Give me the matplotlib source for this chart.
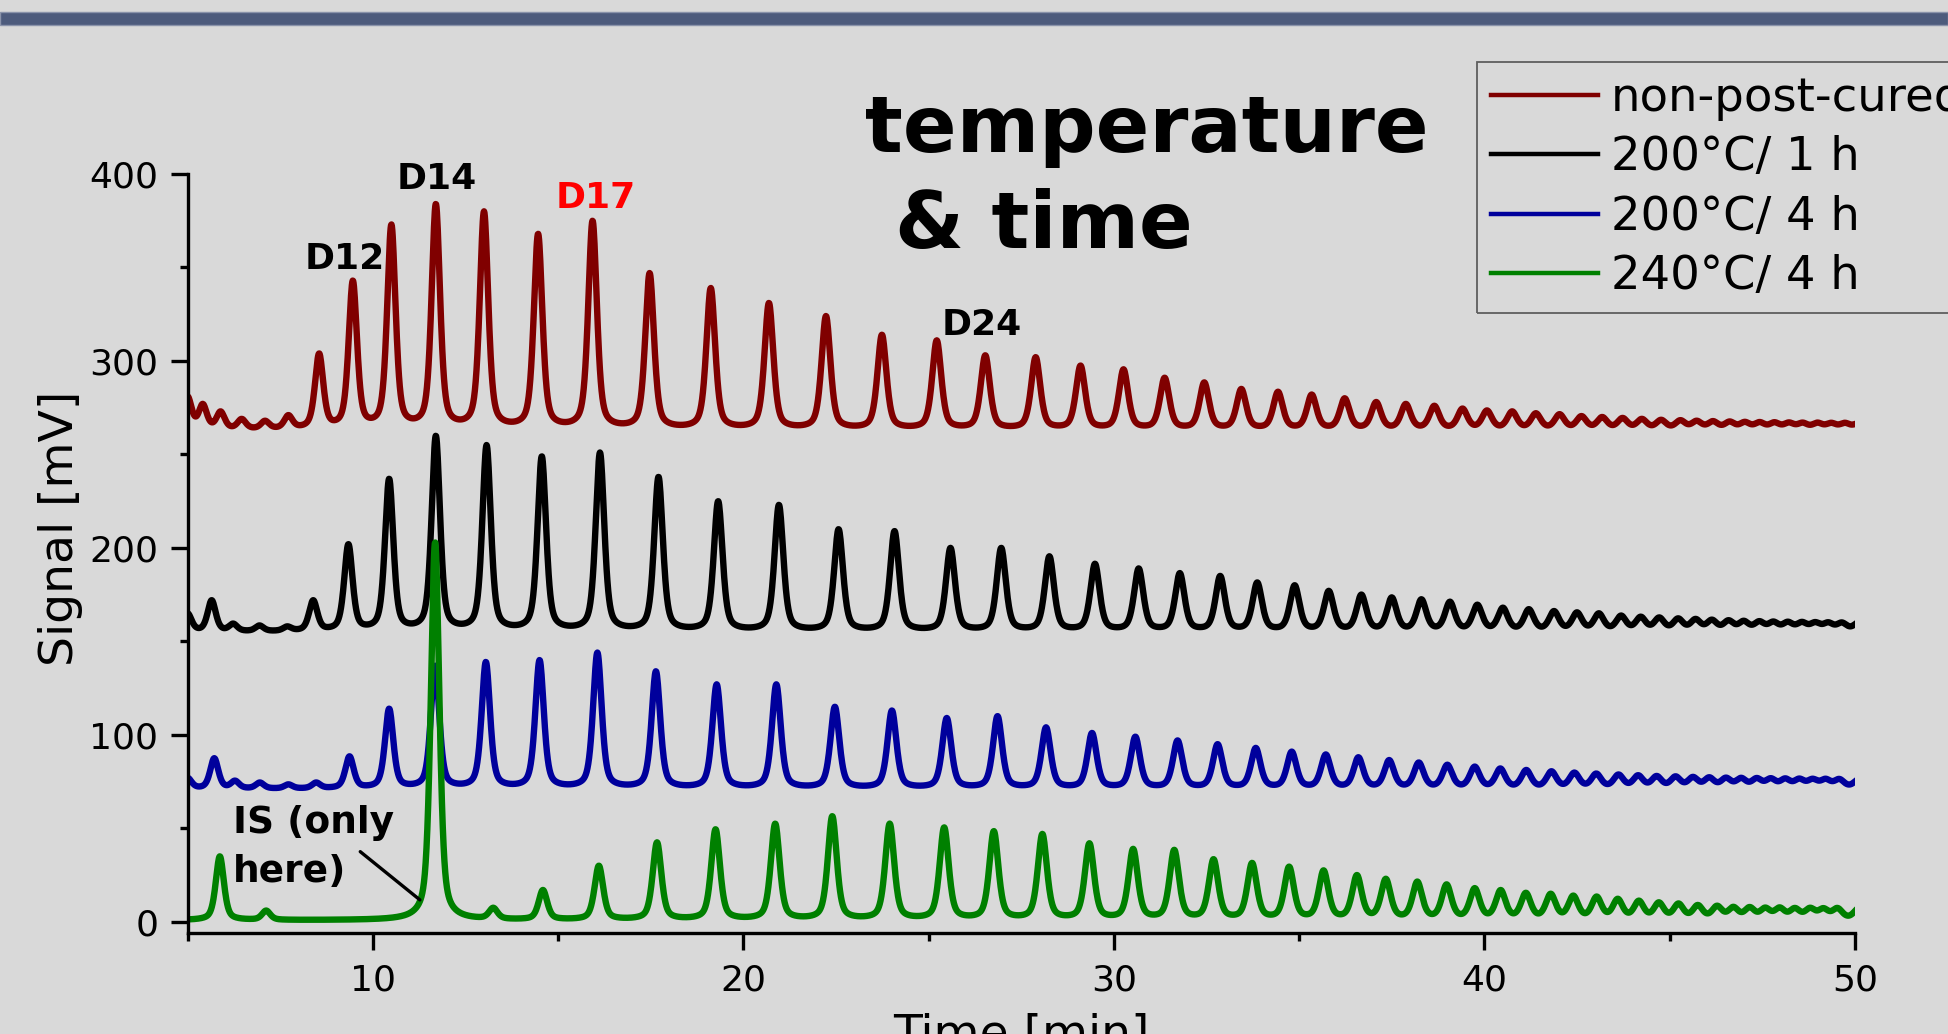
import numpy as np
import matplotlib
matplotlib.use('Agg')
import matplotlib.pyplot as plt
from matplotlib.patches import Rectangle

# peak retention times [min] and apex signals [mV]
t_red = [5.0, 5.41, 5.89, 6.46, 7.09, 7.72, 8.55, 9.46, 10.5, 11.7, 13.0, 14.46, 15.93, 17.47,
         19.12, 20.69, 22.23, 23.74, 25.22, 26.53, 27.89, 29.10, 30.26, 31.37, 32.44, 33.44,
         34.43, 35.34, 36.23, 37.08, 37.88, 38.65, 39.41, 40.07, 40.75, 41.39, 42.03, 42.62,
         43.18, 43.73, 44.25, 44.77, 45.29, 45.73, 46.17, 46.62, 47.03, 47.43, 47.83, 48.22,
         48.59, 48.99, 49.36, 49.73, 50.1]
s_red = [281, 277, 273, 269, 268, 271, 304, 343, 373, 384, 380, 368, 375, 347,
         339, 331, 324, 314, 311, 303, 302, 297.5, 295.5, 291, 288.5, 285, 283.5, 282,
         280, 278, 277, 276, 274.5, 273.5, 273, 272, 271.5, 270.5, 270, 269.5, 269, 268.5,
         268.3, 268, 267.8, 267.6, 267.4, 267.3, 267.2, 267.1, 267, 267, 266.9, 266.9, 266.6]
base_red = 263

t_black = [5.0, 5.65, 6.23, 6.94, 7.69, 8.39, 9.34, 10.44, 11.7, 13.07, 14.56, 16.13, 17.71,
           19.32, 20.96, 22.57, 24.08, 25.59, 26.96, 28.26, 29.49, 30.67, 31.78, 32.87, 33.87,
           34.88, 35.80, 36.68, 37.50, 38.30, 39.07, 39.81, 40.50, 41.20, 41.88, 42.50, 43.09,
           43.69, 44.22, 44.72, 45.23, 45.70, 46.14, 46.59, 47.00, 47.42, 47.80, 48.19, 48.57,
           48.93, 49.28, 49.65, 50.1]
s_black = [165, 172, 159.5, 158.5, 158, 172, 202, 237, 260, 255, 249, 251, 238,
           225, 223, 210, 209, 200, 200, 195.5, 191.5, 189, 186.5, 185, 181.5,
           180, 177, 175, 173.5, 172.5, 171.2, 169.6, 168, 167.2, 166.2, 165.5, 165,
           163.8, 163.2, 162.8, 162.3, 162, 161.6, 161.3, 161, 160.8, 160.6, 160.5, 160.4,
           160.3, 160.2, 160.1, 160]
base_black = 155

t_blue = [5.0, 5.72, 6.28, 6.95, 7.72, 8.47, 9.37, 10.44, 11.68, 13.05, 14.5, 16.06, 17.64,
          19.28, 20.89, 22.47, 24.01, 25.49, 26.86, 28.17, 29.41, 30.58, 31.72, 32.8, 33.83,
          34.8, 35.72, 36.6, 37.43, 38.23, 39.0, 39.74, 40.43, 41.13, 41.81, 42.43, 43.02,
          43.62, 44.15, 44.65, 45.16, 45.63, 46.07, 46.52, 46.93, 47.35, 47.73, 48.12, 48.5,
          48.86, 49.21, 49.58, 50.1]
s_blue = [77, 87.5, 75.5, 74.5, 73.5, 74.5, 88.5, 114, 137, 139, 140, 144, 134,
          127, 127, 115, 113, 109, 110, 104, 101, 99, 97, 95, 93,
          91, 89.5, 88, 86.5, 85.2, 84, 83, 82, 81.2, 80.5, 79.8, 79.3,
          78.8, 78.4, 78, 77.8, 77.5, 77.3, 77.1, 77, 76.9, 76.8, 76.7, 76.6,
          76.5, 76.5, 76.4, 76]
base_blue = 71

t_green = [5.87, 7.12, 11.68, 13.25, 14.59, 16.1, 17.67, 19.25, 20.86, 22.4, 23.95, 25.42,
           26.76, 28.07, 29.34, 30.52, 31.63, 32.69, 33.73, 34.73, 35.66, 36.56, 37.34, 38.19,
           38.98, 39.74, 40.44, 41.12, 41.79, 42.4, 43.03, 43.6, 44.17, 44.71, 45.24, 45.76,
           46.28, 46.72, 47.16, 47.58, 47.97, 48.38, 48.79, 49.15, 49.53, 50.1]
s_green = [35, 6, 203, 7.5, 17, 30, 42.5, 49.5, 52.5, 56.5, 52.5, 50.5,
           48.5, 47, 42, 39, 38.5, 33.5, 31.5, 29.5, 27.5, 25, 23, 21.5,
           20, 18, 17, 15.5, 15, 14, 13.5, 12.3, 11.3, 10.4, 9.8, 9,
           8.6, 8, 7.9, 7.6, 7.7, 7.4, 7.5, 7.3, 7.4, 7]
base_green = 0.8

labels = ['non-post-cured', '200°C/ 1 h', '200°C/ 4 h', '240°C/ 4 h']
colors = ['#800000', '#000000', '#00009c', '#008000']


def set_plot_style():
    plt.rcParams['font.family'] = ['DejaVu Sans']
    plt.rcParams['axes.unicode_minus'] = False


def peak(x, c, w, eta=0.5):
    u = (x - c) / w
    return eta / (1 + 4 * u ** 2) + (1 - eta) * np.exp(-4 * np.log(2) * u ** 2)


def trace(x, times, apex, base):
    times = np.asarray(times, float)
    apex = np.asarray(apex, float)
    fwhm = 0.26 + 0.0015 * (times - 5)
    m = peak(times[:, None], times[None, :], fwhm[None, :])
    amp = np.clip(np.linalg.solve(m, apex - base), 0, None)
    return base + (peak(x[:, None], times[None, :], fwhm[None, :]) * amp).sum(axis=1)


set_plot_style()
bg = '#d9d9d9'
fig = plt.figure(figsize=(19.48, 10.34), dpi=100, facecolor=bg)
ax = fig.add_axes([0.0963, 0.0977, 0.8559, 0.7341])
ax.set_facecolor(bg)

# slide title bar
fig.patches.append(Rectangle((0, 0.9761), 1, 0.0123, transform=fig.transFigure,
                             facecolor='#4d5b7c', edgecolor='#8a93aa', lw=1))

x = np.linspace(5, 50, 4000)
series = [(t_red, s_red, base_red), (t_black, s_black, base_black),
          (t_blue, s_blue, base_blue), (t_green, s_green, base_green)]
lines = []
for (tt, ss, bb), c, lab in zip(series, colors, labels):
    ln, = ax.plot(x, trace(x, tt, ss, bb), color=c, lw=4.6, label=lab)
    lines.append(ln)

ax.set_xlim(5, 50)
ax.set_ylim(-6, 400)
ax.set_xticks([10, 20, 30, 40, 50])
ax.set_xticks([5, 15, 25, 35, 45], minor=True)
ax.set_yticks([0, 100, 200, 300, 400])
ax.set_yticks([50, 150, 250, 350], minor=True)
for s in ['top', 'right']:
    ax.spines[s].set_visible(False)
for s in ['left', 'bottom']:
    ax.spines[s].set_linewidth(2.4)
ax.tick_params(which='major', direction='out', length=12, width=2.4, labelsize=26)
ax.tick_params(which='minor', direction='out', length=6, width=2.4)
ax.tick_params(axis='x', pad=10)
ax.tick_params(axis='y', pad=9)

ax.set_ylabel('Signal [mV]', fontsize=34)
ax.yaxis.set_label_coords(-0.063, 0.533)
ax.set_xlabel('Time [min]', fontsize=34)
ax.xaxis.set_label_coords(0.5, -0.106)

# peak labels
kw = dict(fontsize=26, fontweight='bold', ha='left', va='baseline', clip_on=False)
ax.text(8.15, 349.4, 'D12', **kw)
ax.text(10.63, 391.8, 'D14', **kw)
ax.text(14.92, 381.6, 'D17', color='red', **kw)
ax.text(25.35, 313.8, 'D24', **kw)
ax.text(6.23, 47.7, 'IS (only', fontsize=27, fontweight='bold', ha='left', va='baseline')
ax.text(6.23, 21.4, 'here)', fontsize=27, fontweight='bold', ha='left', va='baseline')
ax.annotate('', xy=(11.27, 11.7), xytext=(9.66, 37.5),
            arrowprops=dict(arrowstyle='-', lw=2.4, color='black', shrinkA=0, shrinkB=0))

fig.text(0.4442, 0.8533, 'temperature', fontsize=57, fontweight='bold', va='baseline')
fig.text(0.4596, 0.7599, '& time', fontsize=57, fontweight='bold', va='baseline')

leg = fig.legend(handles=lines, labels=labels, loc='upper left', bbox_to_anchor=(0.7582, 0.940),
                 fontsize=33.5, frameon=True, fancybox=False, edgecolor='#404040', facecolor='none',
                 handlelength=2.3, handletextpad=0.28, labelspacing=0.31, borderpad=0.3,
                 borderaxespad=0)
leg.get_frame().set_linewidth(1.3)
for h in leg.get_lines():
    h.set_linewidth(3.2)

fig.savefig('out.png', dpi=100, facecolor=bg)
